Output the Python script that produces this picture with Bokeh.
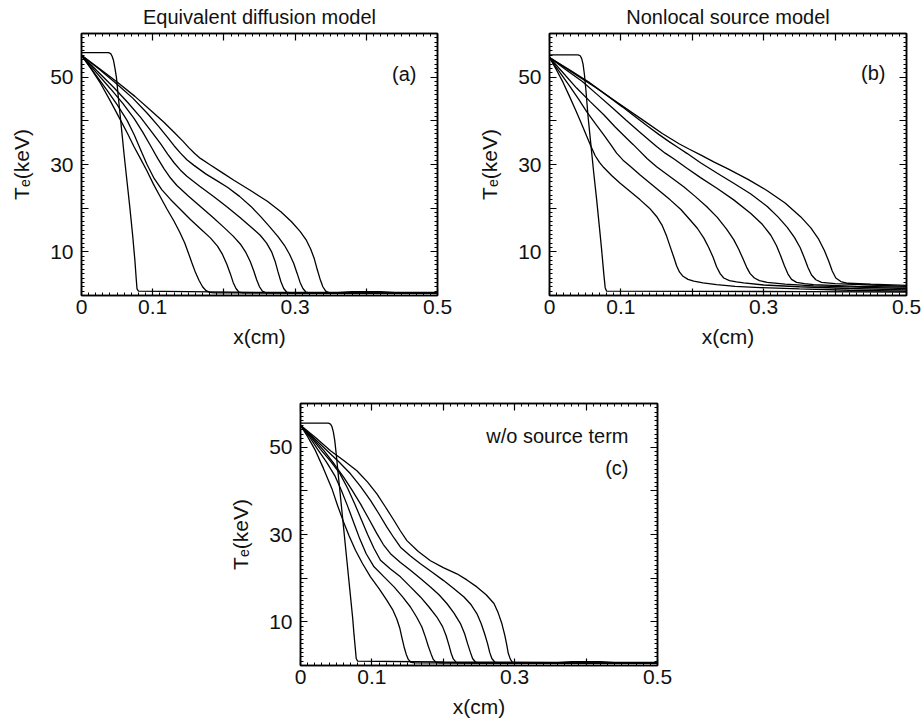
from bokeh.plotting import figure
from bokeh.models import LinearAxis, FixedTicker, Label, Spacer, CustomLabelingPolicy
from bokeh.layouts import column, row
from bokeh.embed import file_html
from bokeh.resources import INLINE

FONT = "Liberation Sans"

# ---------------- axis ticks ----------------
x_major = [0, 0.1, 0.2, 0.3, 0.4, 0.5]
x_minor = [i / 100 for i in range(0, 51)]
x_tick_labels = {0: "0", 0.1: "0.1", 0.2: "", 0.3: "0.3", 0.4: "", 0.5: "0.5"}
y_major = [10, 20, 30, 40, 50]
y_minor = list(range(0, 61))
y_tick_labels = {10: "10", 20: "", 30: "30", 40: "", 50: "50"}

titles = ["Equivalent diffusion model", "Nonlocal source model", ""]
tags = ["(a)", "(b)", "(c)"]
note_c = "w/o source term"
x_label = "x(cm)"
y_label = "T\u2091(keV)"

# ---------------- panel (a): Equivalent diffusion model ----------------
a_step_x = [0, 0.038, 0.041, 0.043, 0.045, 0.047, 0.049, 0.052, 0.056, 0.060, 0.064, 0.068, 0.072, 0.075, 0.077, 0.078, 0.080, 0.15, 0.25, 0.36, 0.38, 0.42, 0.44, 0.5]
a_step_t = [55.6, 55.6, 55.4, 54.8, 53.8, 52.0, 50.0, 45.0, 38.5, 32.0, 26.0, 20.0, 13.5, 8.0, 3.5, 1.5, 1.0, 0.9, 0.7, 0.7, 0.9, 0.9, 0.7, 0.7]
a1_x = [0, 0.014, 0.027, 0.041, 0.055, 0.065, 0.074, 0.083, 0.092, 0.101, 0.111, 0.120, 0.130, 0.138, 0.145, 0.150, 0.155, 0.160, 0.165, 0.170, 0.175, 0.180, 0.186, 0.5]
a1_t = [55, 51.8, 48.5, 44.4, 40.1, 37.0, 34.0, 31.3, 28.5, 25.5, 22.5, 19.8, 17.0, 14.5, 12.0, 9.8, 7.5, 5.3, 3.5, 2.0, 1.1, 0.7, 0.6, 0.5]
a2_x = [0, 0.018, 0.036, 0.050, 0.064, 0.074, 0.083, 0.092, 0.102, 0.113, 0.125, 0.139, 0.153, 0.167, 0.181, 0.191, 0.198, 0.204, 0.209, 0.213, 0.217, 0.221, 0.226, 0.5]
a2_t = [55, 51.0, 47.0, 43.7, 40.1, 36.8, 33.4, 30.0, 26.8, 24.2, 22.0, 19.7, 17.4, 15.3, 13.2, 11.3, 9.4, 7.2, 5.0, 3.0, 1.6, 0.8, 0.6, 0.5]
a3_x = [0, 0.020, 0.041, 0.058, 0.074, 0.086, 0.097, 0.107, 0.116, 0.125, 0.134, 0.150, 0.167, 0.184, 0.200, 0.213, 0.223, 0.231, 0.237, 0.242, 0.246, 0.250, 0.254, 0.259, 0.5]
a3_t = [55, 51.2, 47.3, 44.0, 40.5, 37.4, 34.3, 31.4, 29.0, 26.9, 25.2, 22.8, 20.4, 18.0, 15.6, 13.6, 11.8, 9.8, 7.8, 5.6, 3.6, 2.0, 1.0, 0.6, 0.5]
a4_x = [0, 0.022, 0.045, 0.065, 0.083, 0.098, 0.111, 0.121, 0.130, 0.139, 0.148, 0.166, 0.186, 0.205, 0.223, 0.238, 0.251, 0.260, 0.267, 0.272, 0.276, 0.280, 0.284, 0.288, 0.293, 0.5]
a4_t = [55, 51.4, 47.7, 44.2, 40.8, 37.6, 34.8, 32.4, 30.4, 28.7, 27.3, 25.0, 22.6, 20.2, 17.8, 15.7, 13.8, 12.0, 10.0, 7.8, 5.4, 3.2, 1.6, 0.8, 0.6, 0.5]
a5_x = [0, 0.025, 0.050, 0.072, 0.092, 0.108, 0.120, 0.130, 0.139, 0.148, 0.158, 0.175, 0.190, 0.205, 0.222, 0.238, 0.252, 0.265, 0.276, 0.285, 0.292, 0.298, 0.303, 0.307, 0.311, 0.315, 0.320, 0.5]
a5_t = [55, 51.8, 48.4, 45.2, 41.8, 38.8, 36.4, 34.3, 32.6, 31.1, 29.8, 27.8, 26.3, 24.8, 22.7, 20.4, 18.0, 15.6, 13.5, 11.5, 9.5, 7.4, 5.0, 3.0, 1.6, 0.8, 0.6, 0.5]
a6_x = [0, 0.025, 0.050, 0.075, 0.097, 0.115, 0.130, 0.142, 0.151, 0.159, 0.167, 0.180, 0.197, 0.214, 0.238, 0.261, 0.280, 0.295, 0.307, 0.316, 0.322, 0.327, 0.331, 0.335, 0.339, 0.343, 0.348, 0.5]
a6_t = [55, 52.0, 48.9, 45.6, 42.4, 39.8, 37.4, 35.4, 33.8, 32.5, 31.4, 30.0, 28.2, 26.4, 24.0, 21.6, 19.2, 16.9, 14.7, 12.6, 10.6, 8.4, 6.0, 3.8, 2.0, 1.0, 0.6, 0.5]

# ---------------- panel (b): Nonlocal source model ----------------
b_step_x = [0, 0.040, 0.043, 0.045, 0.047, 0.049, 0.051, 0.054, 0.058, 0.062, 0.066, 0.070, 0.073, 0.076, 0.078, 0.080, 0.2, 0.35, 0.5]
b_step_t = [55.1, 55.1, 54.9, 54.3, 53.0, 50.5, 47.0, 41.0, 34.5, 28.0, 22.0, 15.5, 10.5, 5.0, 1.8, 1.0, 0.95, 0.9, 0.8]
b1_x = [0, 0.010, 0.019, 0.028, 0.037, 0.045, 0.052, 0.058, 0.064, 0.070, 0.076, 0.087, 0.099, 0.113, 0.127, 0.140, 0.150, 0.158, 0.164, 0.169, 0.174, 0.178, 0.182, 0.187, 0.194, 0.202, 0.215, 0.234, 0.26, 0.295, 0.35, 0.42, 0.5]
b1_t = [54.5, 51.6, 48.8, 45.6, 42.3, 39.3, 36.5, 34.2, 32.0, 30.5, 29.3, 27.5, 25.7, 23.8, 21.9, 20.0, 18.1, 16.0, 13.6, 11.2, 8.8, 6.8, 5.4, 4.4, 3.7, 3.3, 2.9, 2.5, 2.1, 1.8, 1.5, 1.2, 1.0]
b2_x = [0, 0.015, 0.029, 0.041, 0.052, 0.064, 0.076, 0.086, 0.094, 0.103, 0.113, 0.127, 0.141, 0.155, 0.169, 0.184, 0.197, 0.207, 0.216, 0.223, 0.229, 0.234, 0.239, 0.244, 0.252, 0.262, 0.272, 0.30, 0.35, 0.42, 0.5]
b2_t = [54.5, 51.0, 47.8, 44.9, 42.1, 39.4, 36.8, 34.5, 32.6, 31.0, 29.6, 27.6, 25.7, 23.8, 21.9, 19.7, 17.3, 15.4, 13.2, 11.0, 8.8, 6.6, 5.0, 4.0, 3.4, 3.1, 2.9, 2.4, 2.0, 1.6, 1.3]
b3_x = [0, 0.019, 0.038, 0.057, 0.076, 0.092, 0.108, 0.117, 0.125, 0.137, 0.150, 0.169, 0.188, 0.204, 0.220, 0.235, 0.248, 0.258, 0.265, 0.271, 0.276, 0.281, 0.287, 0.294, 0.305, 0.33, 0.37, 0.43, 0.5]
b3_t = [54.5, 51.0, 47.5, 44.4, 41.4, 38.6, 36.0, 34.6, 33.3, 31.3, 29.5, 27.2, 24.9, 22.7, 20.4, 17.9, 15.2, 12.8, 10.6, 8.4, 6.5, 5.0, 4.0, 3.4, 3.0, 2.6, 2.2, 1.9, 1.6]
b4_x = [0, 0.023, 0.046, 0.067, 0.088, 0.107, 0.125, 0.138, 0.150, 0.162, 0.175, 0.193, 0.2115, 0.235, 0.258, 0.282, 0.298, 0.310, 0.318, 0.324, 0.329, 0.334, 0.339, 0.346, 0.357, 0.37, 0.43, 0.5]
b4_t = [54.5, 51.7, 49.0, 46.0, 43.0, 40.2, 37.6, 35.8, 34.1, 32.6, 31.2, 29.1, 27.0, 24.5, 21.9, 18.8, 16.3, 13.8, 11.4, 9.0, 6.8, 4.9, 3.7, 3.0, 2.7, 2.5, 2.1, 1.9]
b5_x = [0, 0.028, 0.055, 0.079, 0.102, 0.121, 0.139, 0.153, 0.167, 0.180, 0.193, 0.2115, 0.235, 0.258, 0.2815, 0.305, 0.320, 0.333, 0.343, 0.351, 0.357, 0.362, 0.367, 0.373, 0.381, 0.40, 0.45, 0.5]
b5_t = [54.5, 51.7, 48.9, 46.0, 43.2, 40.8, 38.6, 36.9, 35.3, 33.9, 32.5, 30.4, 28.0, 25.7, 23.3, 20.4, 18.0, 15.6, 13.3, 11.0, 8.6, 6.4, 4.7, 3.6, 3.0, 2.7, 2.4, 2.1]
b6_x = [0, 0.032, 0.064, 0.088, 0.111, 0.135, 0.158, 0.170, 0.182, 0.196, 0.2115, 0.23, 0.25, 0.278, 0.305, 0.330, 0.352, 0.366, 0.377, 0.385, 0.391, 0.396, 0.401, 0.408, 0.418, 0.45, 0.5]
b6_t = [54.5, 51.1, 47.7, 45.0, 42.4, 39.7, 37.1, 35.9, 34.7, 33.5, 32.2, 30.6, 29.0, 26.6, 24.0, 21.2, 18.0, 15.5, 12.9, 10.3, 7.9, 5.6, 4.0, 3.2, 2.8, 2.6, 2.3]

# ---------------- panel (c): w/o source term ----------------
c_step_x = [0, 0.039, 0.042, 0.044, 0.046, 0.048, 0.050, 0.053, 0.057, 0.061, 0.065, 0.069, 0.073, 0.075, 0.077, 0.078, 0.080, 0.2, 0.36, 0.38, 0.42, 0.44, 0.5]
c_step_t = [55.5, 55.5, 55.3, 54.7, 53.5, 51.5, 48.5, 43.5, 37.0, 30.5, 24.0, 17.5, 11.0, 7.0, 3.5, 1.6, 1.0, 0.8, 0.7, 0.9, 0.9, 0.7, 0.7]
c1_x = [0, 0.010, 0.020, 0.032, 0.044, 0.052, 0.060, 0.068, 0.077, 0.087, 0.098, 0.110, 0.121, 0.129, 0.135, 0.139, 0.142, 0.145, 0.148, 0.151, 0.155, 0.16, 0.5]
c1_t = [55, 52.4, 49.5, 45.2, 40.5, 36.6, 33.0, 29.7, 26.4, 23.3, 20.3, 17.6, 14.9, 12.8, 10.6, 8.6, 6.4, 4.3, 2.6, 1.4, 0.7, 0.6, 0.5]
c2_x = [0, 0.012, 0.024, 0.036, 0.048, 0.057, 0.066, 0.075, 0.083, 0.092, 0.103, 0.117, 0.131, 0.143, 0.154, 0.163, 0.170, 0.175, 0.179, 0.183, 0.186, 0.19, 0.196, 0.5]
c2_t = [55, 52.5, 49.5, 46.7, 43.5, 40.2, 36.5, 32.5, 29.0, 25.6, 22.6, 20.3, 18.0, 15.7, 13.4, 11.0, 8.8, 6.5, 4.4, 2.6, 1.4, 0.7, 0.6, 0.5]
c3_x = [0, 0.014, 0.028, 0.042, 0.055, 0.066, 0.076, 0.085, 0.094, 0.103, 0.112, 0.126, 0.140, 0.154, 0.168, 0.180, 0.191, 0.199, 0.204, 0.208, 0.211, 0.214, 0.218, 0.224, 0.5]
c3_t = [55, 52.4, 49.5, 46.8, 44.0, 40.6, 37.0, 33.5, 30.0, 26.8, 24.1, 22.1, 20.3, 18.0, 15.7, 13.4, 11.1, 8.9, 6.8, 4.6, 2.8, 1.5, 0.7, 0.6, 0.5]
c4_x = [0, 0.016, 0.0327, 0.047, 0.0606, 0.072, 0.084, 0.096, 0.107, 0.116, 0.126, 0.140, 0.154, 0.168, 0.182, 0.194, 0.205, 0.215, 0.224, 0.230, 0.234, 0.238, 0.241, 0.245, 0.25, 0.5]
c4_t = [55, 52.3, 49.2, 46.2, 43.1, 40.2, 37.0, 33.5, 30.2, 27.7, 25.6, 23.6, 21.8, 19.9, 18.0, 16.2, 14.2, 12.0, 9.6, 7.2, 5.0, 3.0, 1.6, 0.8, 0.6, 0.5]
c5_x = [0, 0.018, 0.0373, 0.054, 0.070, 0.084, 0.098, 0.110, 0.121, 0.131, 0.140, 0.154, 0.168, 0.184, 0.200, 0.215, 0.229, 0.239, 0.247, 0.253, 0.258, 0.262, 0.265, 0.268, 0.272, 0.277, 0.5]
c5_t = [55, 52.2, 49.2, 46.6, 43.9, 41.0, 37.8, 34.7, 31.7, 29.2, 27.1, 25.1, 23.3, 21.4, 19.5, 17.6, 15.7, 13.9, 11.9, 9.6, 7.2, 5.0, 3.0, 1.6, 0.8, 0.6, 0.5]
c6_x = [0, 0.021, 0.042, 0.061, 0.079, 0.094, 0.107, 0.119, 0.131, 0.140, 0.149, 0.165, 0.182, 0.200, 0.219, 0.233, 0.247, 0.260, 0.271, 0.277, 0.282, 0.286, 0.289, 0.291, 0.294, 0.297, 0.302, 0.5]
c6_t = [55, 52.2, 49.2, 46.9, 44.6, 42.0, 39.3, 36.3, 33.2, 30.8, 28.6, 26.1, 24.0, 22.4, 21.0, 19.6, 18.0, 16.2, 14.2, 12.0, 9.6, 7.0, 4.6, 2.8, 1.4, 0.7, 0.6, 0.5]

curves_a = [(a_step_x, a_step_t), (a1_x, a1_t), (a2_x, a2_t), (a3_x, a3_t), (a4_x, a4_t), (a5_x, a5_t), (a6_x, a6_t)]
curves_b = [(b_step_x, b_step_t), (b1_x, b1_t), (b2_x, b2_t), (b3_x, b3_t), (b4_x, b4_t), (b5_x, b5_t), (b6_x, b6_t)]
curves_c = [(c_step_x, c_step_t), (c1_x, c1_t), (c2_x, c2_t), (c3_x, c3_t), (c4_x, c4_t), (c5_x, c5_t), (c6_x, c6_t)]

HIDE_ALL = "for (const i of indices) indices.unset(i)\nreturn indices"


def style_axis(ax, ticker, overrides, show_labels, standoff):
    ax.ticker = ticker
    ax.axis_line_color = "black"
    ax.axis_line_width = 1.5
    ax.major_tick_line_color = "black"
    ax.major_tick_line_width = 1.2
    ax.minor_tick_line_color = "black"
    ax.minor_tick_line_width = 1.0
    ax.major_tick_in = 7
    ax.major_tick_out = 0
    ax.minor_tick_in = 3
    ax.minor_tick_out = 0
    if show_labels:
        ax.major_label_standoff = standoff
        ax.major_label_overrides = overrides
        ax.major_label_text_font = FONT
        ax.major_label_text_font_size = "21px"
        ax.major_label_text_color = "#111111"
    else:
        ax.major_label_standoff = 0
        ax.major_label_text_font_size = "1px"
        ax.major_label_policy = CustomLabelingPolicy(code=HIDE_ALL)


def make_panel(curves, title, tag, note, w, h, bl, br, bt, bb):
    p = figure(width=w, height=h, x_range=(0, 0.5), y_range=(0, 60),
               output_backend="svg", toolbar_location=None,
               min_border_left=bl, min_border_right=br,
               min_border_top=bt, min_border_bottom=bb,
               title=title if title else None)
    p.xgrid.visible = False
    p.ygrid.visible = False
    p.outline_line_color = "black"
    p.outline_line_width = 1.5
    p.background_fill_color = "white"
    p.border_fill_color = "white"

    if title:
        p.title.align = "center"
        p.title.text_font = FONT
        p.title.text_font_size = "20px"
        p.title.text_font_style = "normal"
        p.title.text_color = "#111111"
        p.title.standoff = 4

    style_axis(p.xaxis[0], FixedTicker(ticks=x_major, minor_ticks=x_minor), x_tick_labels, True, 4)
    style_axis(p.yaxis[0], FixedTicker(ticks=y_major, minor_ticks=y_minor), y_tick_labels, True, 8)
    p.xaxis.axis_label = x_label
    p.yaxis.axis_label = y_label
    for ax in (p.xaxis[0], p.yaxis[0]):
        ax.axis_label_text_font = FONT
        ax.axis_label_text_font_size = "21px"
        ax.axis_label_text_font_style = "normal"
        ax.axis_label_text_color = "#111111"
    p.xaxis.axis_label_standoff = 8
    p.yaxis.axis_label_standoff = 14

    top = LinearAxis()
    style_axis(top, FixedTicker(ticks=x_major, minor_ticks=x_minor), None, False, 0)
    p.add_layout(top, "above")
    right = LinearAxis()
    style_axis(right, FixedTicker(ticks=y_major, minor_ticks=y_minor), None, False, 0)
    p.add_layout(right, "right")

    for xs, ts in curves:
        p.line(xs, ts, line_color="black", line_width=1.3)

    fw = w - bl - br
    fh = h - bt - bb
    if note:
        p.add_layout(Label(x=fw - 29, y=fh - 32, x_units="screen", y_units="screen",
                           text=note, text_align="right", text_baseline="middle",
                           text_font=FONT, text_font_size="20px", text_color="#111111"))
        p.add_layout(Label(x=fw - 29, y=fh - 64, x_units="screen", y_units="screen",
                           text=tag, text_align="right", text_baseline="middle",
                           text_font=FONT, text_font_size="20px", text_color="#111111"))
    else:
        p.add_layout(Label(x=fw - 21, y=fh - 40, x_units="screen", y_units="screen",
                           text=tag, text_align="right", text_baseline="middle",
                           text_font=FONT, text_font_size="20px", text_color="#111111"))
    return p


pa = make_panel(curves_a, titles[0], tags[0], None, 462, 370, 81, 25, 33, 75)
pb = make_panel(curves_b, titles[1], tags[1], None, 462, 370, 87, 18, 33, 74)
pc = make_panel(curves_c, titles[2], tags[2], note_c, 462, 353, 81, 24, 33, 58)

layout = column(row(pa, pb), row(Spacer(width=219, height=353), pc))

with open("out.html", "w") as f:
    f.write(file_html(layout, INLINE))
